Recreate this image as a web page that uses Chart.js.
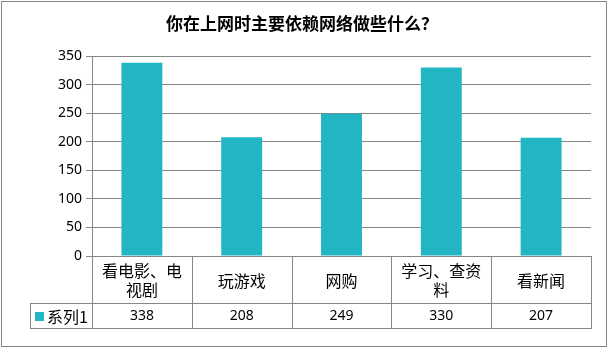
<!DOCTYPE html>
<html>
<head>
<meta charset="utf-8">
<script src="https://cdn.jsdelivr.net/npm/chart.js@4"></script>
<style>
  html, body { margin: 0; padding: 0; background: #fff; }
  #wrap { width: 609px; height: 348px; }
</style>
</head>
<body>
<div id="wrap"><canvas id="chart" width="609" height="348"></canvas></div>
<script>
const title = '你在上网时主要依赖网络做些什么？';
const categories = ['看电影、电视剧', '玩游戏', '网购', '学习、查资料', '看新闻'];
const seriesName = '系列1';
const values = [338, 208, 249, 330, 207];
const yTicks = [0, 50, 100, 150, 200, 250, 300, 350];

const BAR = '#22b5c3';
const LINE = '#868686';
const CJK = '"Noto Sans CJK SC", "Noto Sans", sans-serif';
const NUM = '"Noto Sans", "Noto Sans CJK SC", sans-serif';

// split a label into lines that fit the column
const wrap = (ctx, text, maxW) => {
    const lines = [];
    let cur = '';
    for (const ch of text) {
        if (cur && ctx.measureText(cur + ch).width > maxW) {
            lines.push(cur);
            cur = ch;
        } else {
            cur += ch;
        }
    }
    if (cur) lines.push(cur);
    return lines;
};

// title, outer frame and the data table under the plot
const tablePlugin = {
    id: 'tablePlugin',
    afterDraw(chart) {
        const { ctx, chartArea: area, scales } = chart;
        const n = categories.length;
        const colW = (area.right - area.left) / n;
        const row1 = area.bottom + 47;
        const row2 = row1 + 25;
        const legendLeft = 30;

        ctx.save();
        ctx.strokeStyle = LINE;
        ctx.lineWidth = 1;

        // outer frame
        ctx.strokeRect(1.5, 1.5, 605, 345);

        // table grid
        const hline = (x0, x1, y) => {
            ctx.beginPath();
            ctx.moveTo(x0, Math.round(y) + 0.5);
            ctx.lineTo(x1, Math.round(y) + 0.5);
            ctx.stroke();
        };
        const vline = (x, y0, y1) => {
            ctx.beginPath();
            ctx.moveTo(Math.round(x) + 0.5, y0);
            ctx.lineTo(Math.round(x) + 0.5, y1);
            ctx.stroke();
        };
        hline(legendLeft, area.right + 1, row1);
        hline(legendLeft, area.right + 1, row2);
        vline(legendLeft, row1, row2 + 1);
        for (let i = 0; i <= n; i++) {
            vline(area.left + i * colW, area.bottom, row2 + 1);
        }

        // category headers
        ctx.fillStyle = '#000';
        ctx.textAlign = 'center';
        ctx.textBaseline = 'middle';
        ctx.font = '16px ' + CJK;
        categories.forEach((c, i) => {
            const cx = scales.x.getPixelForValue(i);
            const lines = wrap(ctx, c, 88);
            const lh = 19;
            const mid = (area.bottom + row1) / 2 + 1;
            lines.forEach((ln, k) => {
                ctx.fillText(ln, cx, mid + (k - (lines.length - 1) / 2) * lh);
            });
        });

        // series row
        const ry = (row1 + row2) / 2 + 1;
        ctx.font = '14px ' + NUM;
        values.forEach((v, i) => {
            ctx.fillText(String(v), scales.x.getPixelForValue(i), ry);
        });

        // legend key + series name
        ctx.fillStyle = BAR;
        ctx.fillRect(35, ry - 4.5, 9, 9);
        ctx.fillStyle = '#000';
        ctx.textAlign = 'left';
        ctx.font = '16px ' + CJK;
        ctx.fillText(seriesName, 47, ry);

        // title
        ctx.textAlign = 'center';
        ctx.font = 'bold 17px ' + CJK;
        ctx.fillText(title, 302, 24);
        ctx.restore();
    }
};

new Chart(document.getElementById('chart').getContext('2d'), {
    type: 'bar',
    data: {
        labels: categories,
        datasets: [{
            label: seriesName,
            data: values,
            backgroundColor: BAR,
            barPercentage: 0.41,
            categoryPercentage: 1,
        }],
    },
    options: {
        responsive: false,
        animation: false,
        layout: { padding: { left: 0, right: 18, top: 56, bottom: 92 } },
        scales: {
            x: {
                display: false,
            },
            y: {
                min: 0,
                max: 350,
                afterBuildTicks: s => { s.ticks = yTicks.map(v => ({ value: v })); },
                afterFit: s => { s.width = 92; },
                border: { display: true, color: LINE },
                grid: { color: LINE, tickLength: 6, tickColor: LINE },
                ticks: {
                    color: '#000',
                    padding: 4,
                    font: { family: NUM, size: 14 },
                },
            },
        },
        plugins: {
            legend: { display: false },
            title: { display: false },
            tooltip: { enabled: false },
        },
    },
    plugins: [tablePlugin],
});
</script>
</body>
</html>
